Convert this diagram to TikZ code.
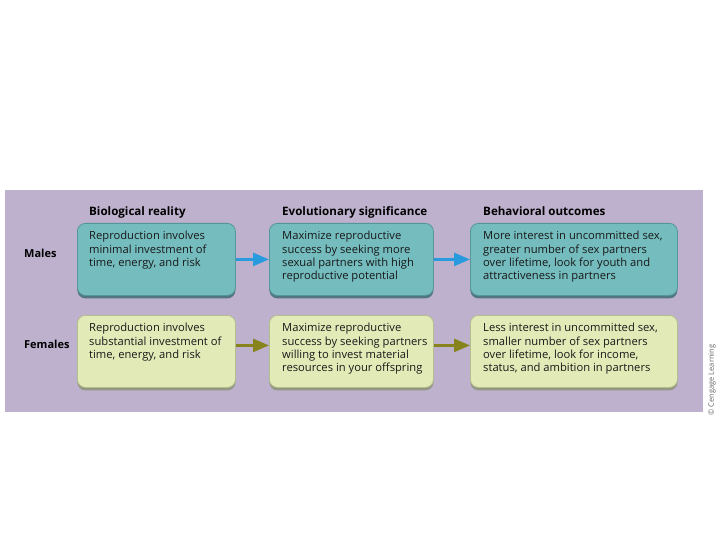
\documentclass[tikz,border=0pt]{standalone}
\usepackage{fontspec}
\setmainfont{Open Sans}
\usetikzlibrary{arrows.meta,shadows}

\definecolor{panel}{RGB}{189,177,205}
\definecolor{malefill}{RGB}{116,188,190}
\definecolor{maleedge}{RGB}{84,150,156}
\definecolor{maleshade}{RGB}{70,112,120}
\definecolor{femfill}{RGB}{226,235,184}
\definecolor{femedge}{RGB}{180,190,140}
\definecolor{femshade}{RGB}{140,145,115}
\definecolor{malearrow}{RGB}{40,155,222}
\definecolor{femarrow}{RGB}{135,132,30}

\tikzset{
  cardbox/.style={rounded corners=8pt,anchor=north west,line width=0.8pt},
  malecard/.style={cardbox,fill=malefill,draw=maleedge,
    drop shadow={shadow xshift=0pt,shadow yshift=-3pt,fill=maleshade,opacity=0.9}},
  femcard/.style={cardbox,fill=femfill,draw=femedge,
    drop shadow={shadow xshift=0pt,shadow yshift=-3pt,fill=femshade,opacity=0.8}},
  cardtext/.style={anchor=north west,align=left,inner sep=0pt,
    font=\fontsize{11.2}{13.4}\selectfont,text=black!90},
  headtext/.style={anchor=base west,inner sep=0pt,font=\fontsize{11.6}{13}\selectfont\bfseries},
  rowtext/.style={anchor=west,inner sep=0pt,font=\fontsize{11}{13}\selectfont\bfseries},
  flow/.style={line width=2.6pt,-{Triangle[length=16pt,width=13pt]}}
}

\begin{document}
\begin{tikzpicture}[x=1pt,y=-1pt]
  \useasboundingbox (0,0) rectangle (720,540);
  \fill[panel] (5,190) rectangle (703,412);

  % male row
  \node[malecard,minimum width=158pt,minimum height=72pt] (m1) at (77,223) {};
  \node[malecard,minimum width=164pt,minimum height=72pt] (m2) at (269,223) {};
  \node[malecard,minimum width=207pt,minimum height=72pt] (m3) at (470,223) {};

  % female row
  \node[femcard,minimum width=158pt,minimum height=72pt] (f1) at (77,315) {};
  \node[femcard,minimum width=164pt,minimum height=72pt] (f2) at (269,315) {};
  \node[femcard,minimum width=207pt,minimum height=72pt] (f3) at (470,315) {};

  % column heads
  \node[headtext] (h1) at ([shift={(12,-8)}]m1.north west) {Biological reality};
  \node[headtext] (h2) at ([shift={(13,-8)}]m2.north west) {Evolutionary significance};
  \node[headtext] (h3) at ([shift={(13,-8)}]m3.north west) {Behavioral outcomes};

  \node[rowtext] (males) at (24,253) {Males};
  \node[rowtext] (females) at (24,344) {Females};

  % texts in the cards
  \node[cardtext] (m1t) at ([shift={(12,8)}]m1.north west)
    {Reproduction involves\\minimal investment of\\time, energy, and risk};
  \node[cardtext] (m2t) at ([shift={(13,8)}]m2.north west)
    {Maximize reproductive\\success by seeking more\\sexual partners with high\\reproductive potential};
  \node[cardtext] (m3t) at ([shift={(13,8)}]m3.north west)
    {More interest in uncommitted sex,\\greater number of sex partners\\over lifetime, look for youth and\\attractiveness in partners};
  \node[cardtext] (f1t) at ([shift={(12,8)}]f1.north west)
    {Reproduction involves\\substantial investment of\\time, energy, and risk};
  \node[cardtext] (f2t) at ([shift={(13,8)}]f2.north west)
    {Maximize reproductive\\success by seeking partners\\willing to invest material\\resources in your offspring};
  \node[cardtext] (f3t) at ([shift={(13,8)}]f3.north west)
    {Less interest in uncommitted sex,\\smaller number of sex partners\\over lifetime, look for income,\\status, and ambition in partners};

  % arrows
  \draw[flow,malearrow] (m1.east) -- (m2.west);
  \draw[flow,malearrow] (m2.east) -- (m3.west);
  \draw[flow,femarrow] ([yshift=6pt]f1.east) -- ([yshift=6pt]f2.west);
  \draw[flow,femarrow] ([yshift=6pt]f2.east) -- ([yshift=6pt]f3.west);

  \node[rotate=90,font=\fontsize{7.5}{8}\selectfont,text=black!60] (credit) at (712,380) {© Cengage Learning};
\end{tikzpicture}
\end{document}
